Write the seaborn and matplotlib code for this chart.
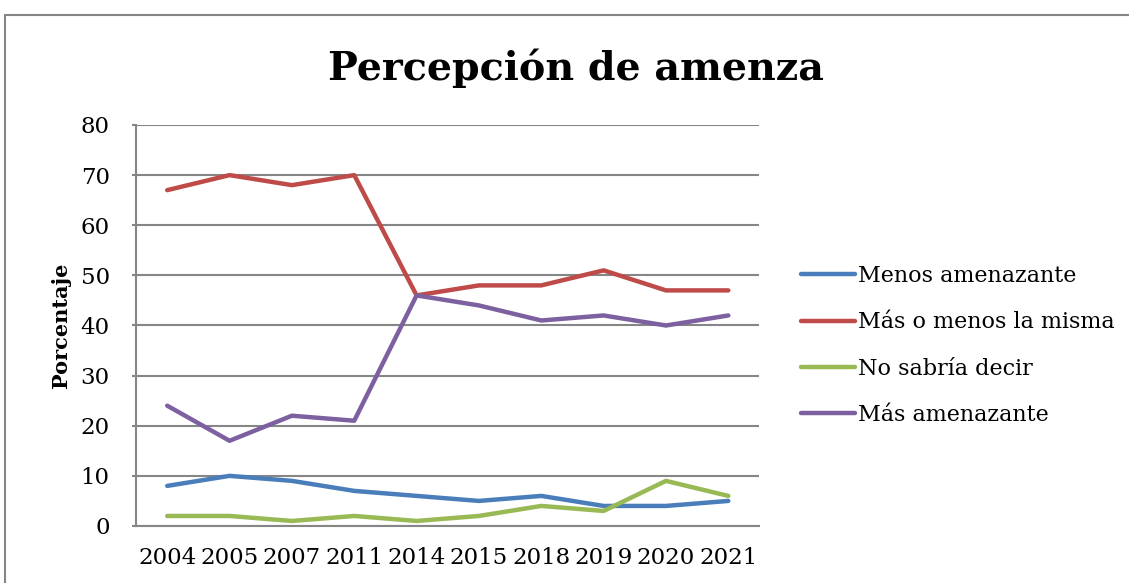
import pandas as pd
import numpy as np
import matplotlib.pyplot as plt
import seaborn as sns
from matplotlib.lines import Line2D

years = ['2004', '2005', '2007', '2011', '2014', '2015', '2018', '2019', '2020', '2021']
menos = [8, 10, 9, 7, 6, 5, 6, 4, 4, 5]
mas_o_menos = [67, 70, 68, 70, 46, 48, 48, 51, 47, 47]
no_sabria = [2, 2, 1, 2, 1, 2, 4, 3, 9, 6]
mas = [24, 17, 22, 21, 46, 44, 41, 42, 40, 42]

series = {
    'Menos amenazante': menos,
    'Más o menos la misma': mas_o_menos,
    'No sabría decir': no_sabria,
    'Más amenazante': mas,
}
colors = ['#4A7EBB', '#BE4B48', '#98B954', '#7D60A0']

rows = []
for name, vals in series.items():
    for y, v in zip(years, vals):
        rows.append({'Año': y, 'Porcentaje': v, 'Serie': name})
df = pd.DataFrame(rows)

sns.set_style('white')
plt.rcParams['font.family'] = ['DejaVu Serif']
plt.rcParams['text.color'] = 'black'
plt.rcParams['axes.labelcolor'] = 'black'
plt.rcParams['xtick.color'] = 'black'
plt.rcParams['ytick.color'] = 'black'

fig = plt.figure(figsize=(11.29, 5.83), dpi=100)
ax = fig.add_axes([0.1205, 0.0978, 0.5522, 0.6878])

sns.lineplot(data=df, x='Año', y='Porcentaje', hue='Serie', palette=colors,
             linewidth=3.2, sort=False, ax=ax, solid_capstyle='round')

ax.set_xlim(-0.5, len(years) - 0.5)
ax.set_ylim(0, 80)
ax.set_yticks(range(0, 81, 10))
ax.grid(axis='y', color='#868686', linewidth=1.5)
ax.set_axisbelow(True)
for s in ['top', 'right']:
    ax.spines[s].set_visible(False)
for s in ['left', 'bottom']:
    ax.spines[s].set_color('#868686')
    ax.spines[s].set_linewidth(1.5)
ax.tick_params(axis='x', labelsize=16.5, length=0, pad=15)
ax.tick_params(axis='y', labelsize=16.5, length=3, width=1.5, color='#868686',
               left=True, pad=16)
ax.set_xlabel('')
ax.set_ylabel('Porcentaje', fontsize=15, fontweight='bold', labelpad=7)

leg = ax.legend(loc='center left', bbox_to_anchor=(1.035, 0.45), frameon=False,
                fontsize=16, handlelength=2.4, labelspacing=1.1, handletextpad=0.15)
for line in leg.get_lines():
    line.set_linewidth(3.2)

fig.text(0.51, 0.883, 'Percepción de amenza', ha='center', va='center',
         fontsize=28.5, fontweight='bold')

# outer chart border (top and left visible)
fig.add_artist(Line2D([5 / 1129, 5 / 1129], [0, 1 - 15 / 583], color='#868686', linewidth=1.5))
fig.add_artist(Line2D([5 / 1129, 1], [1 - 15 / 583, 1 - 15 / 583], color='#868686', linewidth=1.5))

fig.savefig('out.png', dpi=100)
